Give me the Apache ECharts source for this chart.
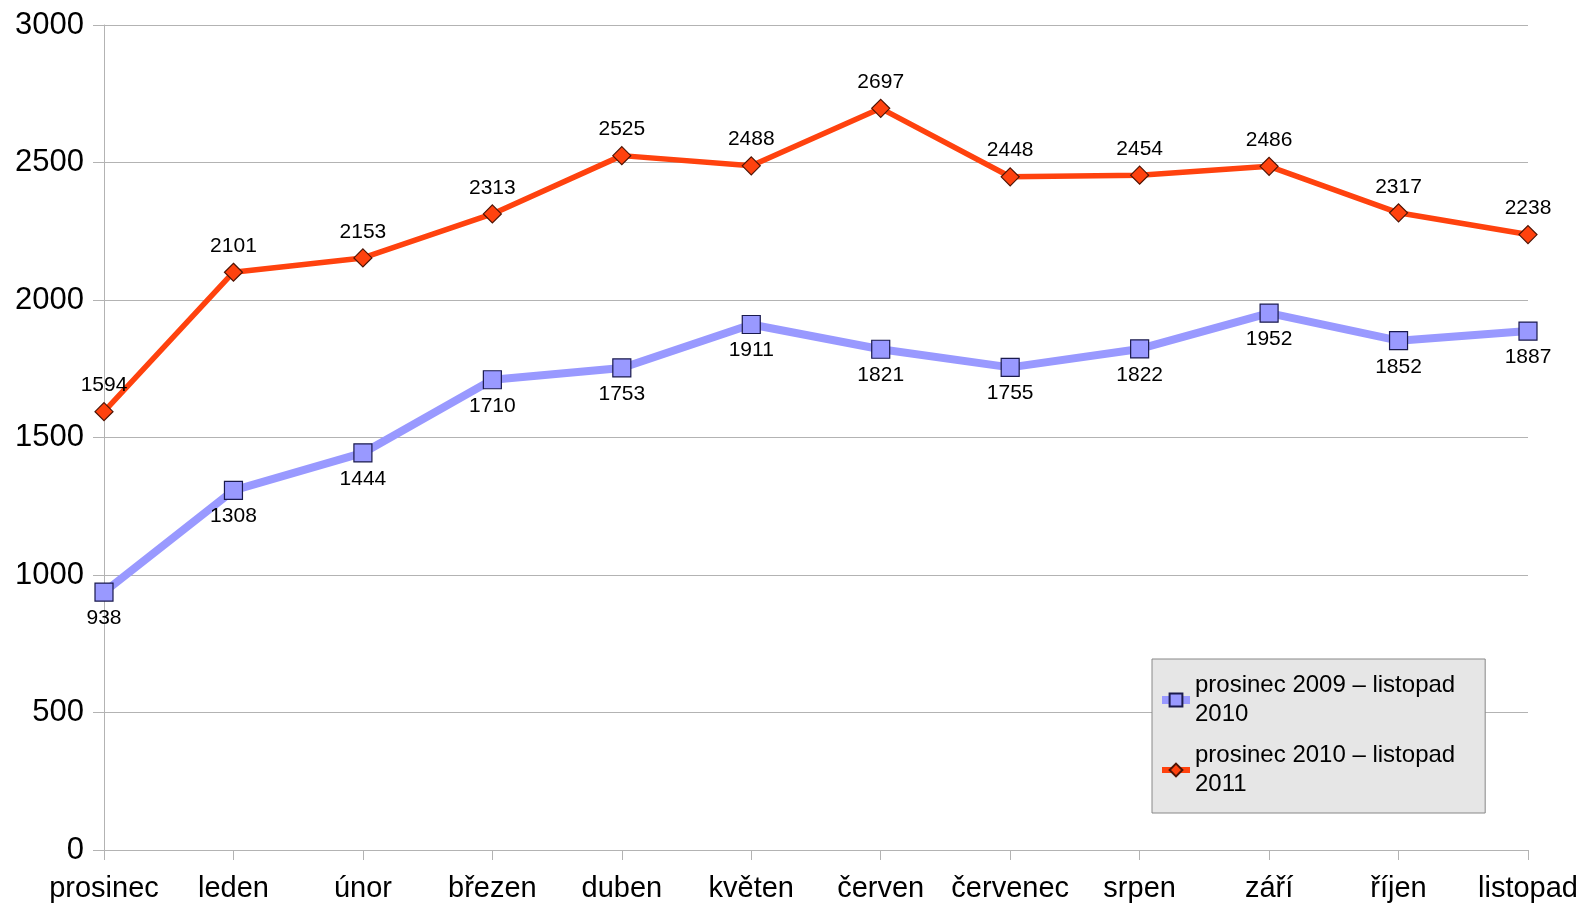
<!DOCTYPE html>
<html>
<head>
<meta charset="utf-8">
<script src="https://cdn.jsdelivr.net/npm/echarts@6/dist/echarts.min.js"></script>
<style>
  html, body { margin: 0; padding: 0; background: #fff; }
  #chart { width: 1587px; height: 907px; }
</style>
</head>
<body>
<div id="chart"></div>
<script>
// měsíce na ose x
const months = ['prosinec', 'leden', 'únor', 'březen', 'duben', 'květen', 'červen',
  'červenec', 'srpen', 'září', 'říjen', 'listopad'];
const seriesNames = ['prosinec 2009 – listopad\n2010', 'prosinec 2010 – listopad\n2011'];
const values2010 = [938, 1308, 1444, 1710, 1753, 1911, 1821, 1755, 1822, 1952, 1852, 1887];
const values2011 = [1594, 2101, 2153, 2313, 2525, 2488, 2697, 2448, 2454, 2486, 2317, 2238];

const chart = echarts.init(document.getElementById('chart'));
const font = 'Liberation Sans, Arial, sans-serif';

chart.setOption({
  animation: false,
  textStyle: { fontFamily: font },
  grid: { left: 104, right: 59, top: 25, bottom: 57 },
  legend: {
    orient: 'vertical',
    left: 1152,
    top: 659,
    padding: [12, 30, 14, 6],
    itemGap: 12,
    itemWidth: 28,
    itemHeight: 16,
    backgroundColor: '#e6e6e6',
    borderColor: '#888888',
    borderWidth: 1,
    textStyle: { fontSize: 24, color: '#000', lineHeight: 29, fontFamily: font },
    data: [
      { name: seriesNames[0], lineStyle: { width: 8 } },
      { name: seriesNames[1], lineStyle: { width: 6 } }
    ]
  },
  xAxis: {
    type: 'category',
    data: months,
    boundaryGap: false,
    axisLine: { lineStyle: { color: '#b3b3b3', width: 1 } },
    axisTick: { show: true, interval: 0, length: 10, lineStyle: { color: '#b3b3b3' } },
    axisLabel: { interval: 0, fontSize: 29, color: '#000', margin: 24, fontFamily: font },
    splitLine: { show: false }
  },
  yAxis: {
    type: 'value',
    min: 0,
    max: 3000,
    interval: 500,
    axisLine: { show: true, lineStyle: { color: '#b3b3b3', width: 1 } },
    axisTick: { show: true, length: 11, lineStyle: { color: '#b3b3b3' } },
    axisLabel: { fontSize: 31, color: '#000', margin: 20, fontFamily: font, formatter: v => String(v) },
    splitLine: { lineStyle: { color: '#b3b3b3', width: 1 } }
  },
  series: [
    {
      name: seriesNames[0],
      type: 'line',
      data: values2010,
      symbol: 'rect',
      symbolSize: 18,
      lineStyle: { color: '#9999ff', width: 8 },
      itemStyle: { color: '#9999ff', borderColor: '#1a1a4d', borderWidth: 1.2 },
      label: { show: true, position: 'bottom', distance: 6, fontSize: 21, color: '#000', fontFamily: font },
      z: 2
    },
    {
      name: seriesNames[1],
      type: 'line',
      data: values2011,
      symbol: 'diamond',
      symbolSize: 18,
      lineStyle: { color: '#ff420e', width: 5.5 },
      itemStyle: { color: '#ff420e', borderColor: '#4d1405', borderWidth: 1.2 },
      label: { show: true, position: 'top', distance: 6, fontSize: 21, color: '#000', fontFamily: font },
      z: 3
    }
  ]
});

window.addEventListener('resize', () => chart.resize());
</script>
</body>
</html>
